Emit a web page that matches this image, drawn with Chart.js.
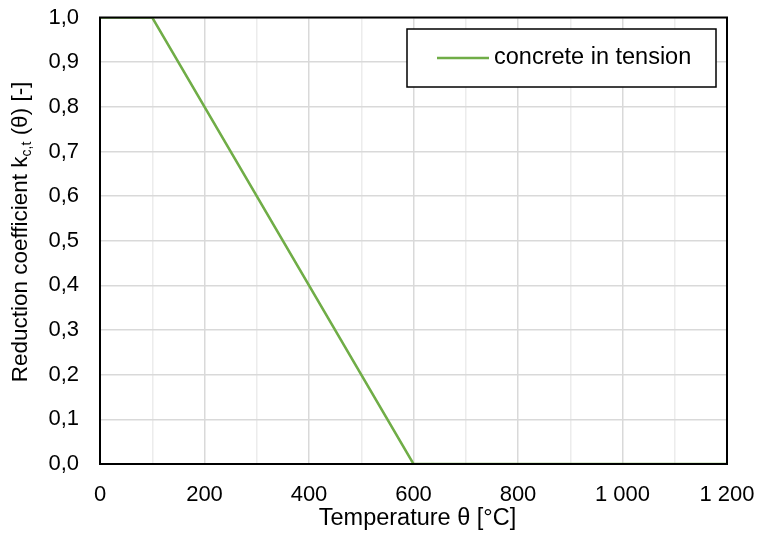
<!DOCTYPE html>
<html>
<head>
<meta charset="utf-8">
<script src="https://cdn.jsdelivr.net/npm/chart.js@4"></script>
<style>
  html, body { margin: 0; padding: 0; background: #fff; }
  #wrap { position: relative; width: 758px; height: 544px; }
</style>
</head>
<body>
<div id="wrap"><canvas id="chart" width="758" height="544"></canvas></div>
<script>
// data
const temperatures = [0, 100, 600, 1200];
const tensionFactor = [1.0, 1.0, 0.0, 0.0];
const seriesLabel = 'concrete in tension';
const xTitle = 'Temperature θ [°C]';
const yTitleMain = 'Reduction coefficient k';
const yTitleSub = 'c,t';
const yTitleTail = ' (θ) [-]';

const FONT = 'Liberation Sans, Arial, sans-serif';
const GREEN = '#70ad47';

// thousands separator with a space, decimals with a comma
const fmtX = (v) => (v % 200 === 0 ? String(v).replace(/\B(?=(\d{3})+(?!\d))/g, ' ') : '');
const fmtY = (v) => v.toFixed(1).replace('.', ',');

// frame, titles and legend
const decorations = {
  id: 'decorations',
  afterDatasetsDraw(chart) {
    const { ctx, chartArea: a } = chart;
    ctx.save();
    ctx.strokeStyle = '#000';
    ctx.lineWidth = 2;
    ctx.strokeRect(a.left, a.top, a.right - a.left, a.bottom - a.top);

    // legend box
    const lx = 407, ly = 29, lw = 309, lh = 58;
    ctx.fillStyle = '#fff';
    ctx.fillRect(lx, ly, lw, lh);
    ctx.lineWidth = 1.5;
    ctx.strokeRect(lx, ly, lw, lh);
    ctx.strokeStyle = GREEN;
    ctx.lineWidth = 2.5;
    ctx.beginPath();
    ctx.moveTo(437, ly + lh / 2);
    ctx.lineTo(489, ly + lh / 2);
    ctx.stroke();
    ctx.fillStyle = '#000';
    ctx.font = '23.5px ' + FONT;
    ctx.textBaseline = 'middle';
    ctx.textAlign = 'left';
    ctx.fillText(chart.data.datasets[0].label, 494, ly + lh / 2);

    // x title
    ctx.textAlign = 'center';
    ctx.fillText(xTitle, (a.left + a.right) / 2 + 4, 519);

    // rotated y title with subscript
    ctx.textAlign = 'left';
    ctx.translate(21, 232);
    ctx.rotate(-Math.PI / 2);
    const big = '22.5px ' + FONT, small = '14px ' + FONT;
    ctx.font = big;
    const w1 = ctx.measureText(yTitleMain).width;
    const w3 = ctx.measureText(yTitleTail).width;
    ctx.font = small;
    const w2 = ctx.measureText(yTitleSub).width;
    let x = -(w1 + w2 + w3) / 2;
    ctx.font = big;
    ctx.fillText(yTitleMain, x, 0);
    x += w1;
    ctx.font = small;
    ctx.fillText(yTitleSub, x, 6);
    x += w2;
    ctx.font = big;
    ctx.fillText(yTitleTail, x, 0);
    ctx.restore();
  }
};

new Chart(document.getElementById('chart'), {
  type: 'line',
  data: {
    datasets: [{
      label: seriesLabel,
      data: temperatures.map((t, i) => ({ x: t, y: tensionFactor[i] })),
      borderColor: GREEN,
      backgroundColor: GREEN,
      borderWidth: 2.5,
      pointRadius: 0,
      tension: 0,
      fill: false
    }]
  },
  options: {
    responsive: false,
    animation: false,
    layout: { padding: { top: 17.5, right: 31, left: 0, bottom: 0 } },
    plugins: { legend: { display: false }, tooltip: { enabled: false } },
    scales: {
      x: {
        type: 'linear',
        min: 0,
        max: 1200,
        afterFit: (s) => { s.height = 80; s.paddingLeft = 0; s.paddingRight = 0; },
        ticks: {
          stepSize: 100,
          autoSkip: false,
          maxRotation: 0,
          padding: 18,
          color: '#000',
          font: { family: FONT, size: 22 },
          callback: fmtX
        },
        grid: {
          color: (c) => (c.tick && c.tick.value % 200 === 0 ? '#d9d9d9' : '#ececec'),
          lineWidth: 1.5,
          drawTicks: false
        },
        border: { display: false }
      },
      y: {
        min: 0,
        max: 1,
        afterFit: (s) => { s.width = 100; s.paddingTop = 0; s.paddingBottom = 0; },
        ticks: {
          stepSize: 0.1,
          padding: 21,
          color: '#000',
          font: { family: FONT, size: 22 },
          callback: fmtY
        },
        grid: { color: '#d9d9d9', lineWidth: 1.5, drawTicks: false },
        border: { display: false }
      }
    }
  },
  plugins: [decorations]
});
</script>
</body>
</html>
